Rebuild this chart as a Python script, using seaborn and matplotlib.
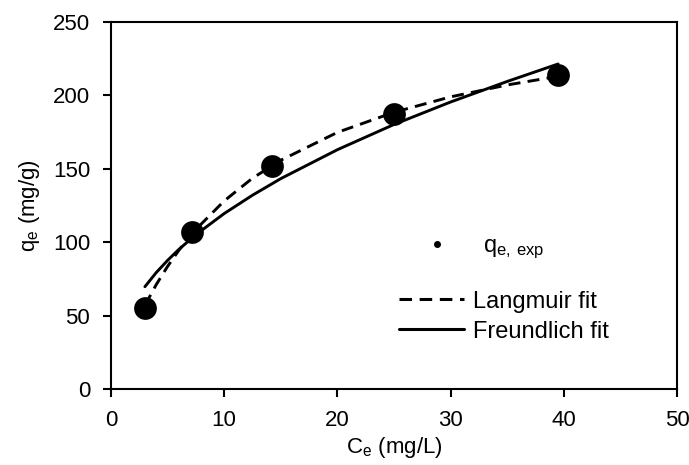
import numpy as np
import pandas as pd
import matplotlib
matplotlib.use("Agg")
import matplotlib.pyplot as plt
from matplotlib.lines import Line2D
import seaborn as sns

# Experimental equilibrium data
ce_exp = [3.0, 7.2, 14.2, 25.0, 39.5]
qe_exp = [55, 107, 152, 187, 214]

# Fitted isotherm curves (sampled along Ce)
ce_fit = [3.0, 4.0, 5.0, 6.0, 7.5, 10.0, 12.5, 15.0, 20.0, 25.0, 30.0, 35.0, 39.5]
qe_langmuir = [57.0, 71.1, 83.5, 94.5, 108.7, 128.1, 143.6, 155.8, 174.8, 188.5, 199.0, 207.1, 213.0]
qe_freundlich = [69.7, 79.3, 87.6, 95.1, 105.1, 119.5, 132.0, 143.3, 163.0, 180.2, 195.5, 209.5, 221.4]

x_ticks = [0, 10, 20, 30, 40, 50]
y_ticks = [0, 50, 100, 150, 200, 250]

sns.set_theme(style="white")
plt.rcParams["font.family"] = ["Liberation Sans", "DejaVu Sans"]
plt.rcParams["mathtext.default"] = "regular"
plt.rcParams["text.color"] = "black"
plt.rcParams["axes.labelcolor"] = "black"
plt.rcParams["xtick.color"] = "black"
plt.rcParams["ytick.color"] = "black"

fig = plt.figure(figsize=(6.89, 4.65), dpi=100)
ax = fig.add_axes([0.161, 0.1634, 0.8216, 0.7893])

df_exp = pd.DataFrame({"Ce": ce_exp, "qe": qe_exp})
df_fit = pd.DataFrame({"Ce": ce_fit, "lang": qe_langmuir, "freu": qe_freundlich})

dash = (0, (4.1, 2.5))
sns.lineplot(data=df_fit, x="Ce", y="lang", ax=ax, color="black", lw=2.1,
             linestyle=dash, legend=False)
sns.lineplot(data=df_fit, x="Ce", y="freu", ax=ax, color="black", lw=2.1,
             legend=False)
sns.scatterplot(data=df_exp, x="Ce", y="qe", ax=ax, color="black", s=230,
                edgecolor="black", zorder=5, legend=False)

ax.set_xlim(0, 50)
ax.set_ylim(0, 250)
ax.set_xticks(x_ticks)
ax.set_yticks(y_ticks)
ax.tick_params(axis="both", direction="out", length=5.5, width=1.5, color="black",
               labelsize=16, labelcolor="black", left=True, bottom=True, pad=9.5)
for sp in ax.spines.values():
    sp.set_color("black")
    sp.set_linewidth(1.5)

ax.set_xlabel("C$_e$ (mg/L)", fontsize=16, color="black", labelpad=3)
ax.set_ylabel("q$_e$ (mg/g)", fontsize=16, color="black", labelpad=8)

# Experimental-point key, set apart above the fitted-curve keys
point_key = ax.legend(
    [Line2D([], [], color="black", marker="o", markersize=4, linestyle="none")],
    ["q$_{e,\\,exp}$"],
    loc="center left", bbox_to_anchor=(0.5097, 0.384),
    frameon=False, fontsize=17, handlelength=3.18, handletextpad=0.36,
    borderpad=0, borderaxespad=0, labelcolor="black")
ax.add_artist(point_key)

ax.legend(
    [Line2D([], [], color="black", lw=2.2, linestyle=dash),
     Line2D([], [], color="black", lw=2.2)],
    ["Langmuir fit", "Freundlich fit"],
    loc="center left", bbox_to_anchor=(0.5097, 0.1975),
    frameon=False, fontsize=17, handlelength=2.75, labelspacing=0.34,
    handletextpad=0.35, borderpad=0, borderaxespad=0, labelcolor="black")

fig.savefig("out.png", dpi=100)
